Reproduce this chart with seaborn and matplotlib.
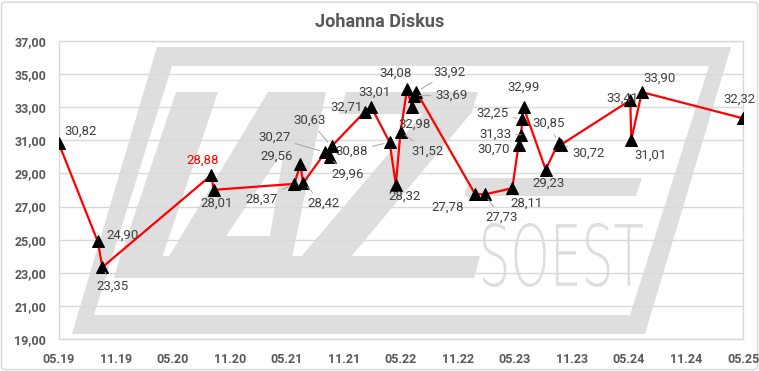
import numpy as np
import pandas as pd
import matplotlib
matplotlib.use("Agg")
import matplotlib.pyplot as plt
import seaborn as sns
from matplotlib.path import Path
from matplotlib.patches import PathPatch, FancyBboxPatch
from matplotlib.textpath import TextPath
from matplotlib.font_manager import FontProperties
from matplotlib.transforms import Affine2D

# ---------------- data ----------------
dates = ['2019-05-01', '2019-09-03', '2019-09-18', '2020-08-31', '2020-09-09',
         '2021-05-25', '2021-06-13', '2021-06-22', '2021-09-01', '2021-09-15',
         '2021-09-21', '2022-01-05', '2022-01-26', '2022-03-26', '2022-04-15',
         '2022-04-30', '2022-05-21', '2022-06-06', '2022-06-11', '2022-06-20',
         '2022-12-24', '2023-01-24', '2023-04-23', '2023-05-13', '2023-05-21',
         '2023-05-25', '2023-05-29', '2023-08-08', '2023-09-18', '2023-09-25',
         '2024-05-05', '2024-05-08', '2024-06-11', '2025-05-01']
values = [30.82, 24.90, 23.35, 28.88, 28.01,
          28.37, 29.56, 28.42, 30.27, 29.96,
          30.63, 32.71, 33.01, 30.88, 28.32,
          31.52, 34.08, 32.98, 33.69, 33.92,
          27.78, 27.73, 28.11, 30.70, 31.33,
          32.25, 32.99, 29.23, 30.85, 30.72,
          33.41, 31.01, 33.90, 32.32]
highlight_value = 28.88
x_tick_dates = ['2019-05-01', '2019-11-01', '2020-05-01', '2020-11-01', '2021-05-01',
                '2021-11-01', '2022-05-01', '2022-11-01', '2023-05-01', '2023-11-01',
                '2024-05-01', '2024-11-01', '2025-05-01']
x_tick_labels = ['05.19', '11.19', '05.20', '11.20', '05.21', '11.21', '05.22',
                 '11.22', '05.23', '11.23', '05.24', '11.24', '05.25']
y_ticks = [19, 21, 23, 25, 27, 29, 31, 33, 35, 37]
title = 'Johanna Diskus'

# label layout (pixel offsets dx, dy-up) and leader-line flags
label_offsets = [(22, 12), (25, 6), (10, -19), (-8, 15), (3, -13),
                 (-33, -15), (-24, 8), (20, -20), (-51, 15), (18, -17),
                 (-22, 26), (-18, 5), (3, 15), (-38, -9), (9, -12),
                 (27, -20), (-12, 16), (2, -17), (38, 0), (33, 20),
                 (-27, -14), (17, -23), (14, -15), (-25, -4), (-26, 0),
                 (-30, 6), (0, 20), (3, -14), (-10, 19), (28, -8),
                 (-8, 2), (19, -15), (18, 14), (-4, 19)]
leaders = [0, 0, 1, 0, 0,
           1, 0, 1, 1, 1,
           1, 0, 0, 1, 0,
           1, 0, 0, 1, 1,
           1, 1, 0, 0, 1,
           1, 0, 0, 1, 1,
           0, 0, 0, 0]

df = pd.DataFrame({'date': pd.to_datetime(dates), 'value': values})

# ---------------- figure ----------------
W, H = 759, 371
sns.set_theme(style='white')
plt.rcParams['font.family'] = ['Roboto', 'DejaVu Sans']
fig = plt.figure(figsize=(W / 100, H / 100), dpi=100)
fig.patch.set_facecolor('white')


def px(x, y):
    return (x / W, 1 - y / H)


wm_color = '#dedede'


def wm_path(rings):
    verts, codes = [], []
    for ring in rings:
        verts += [px(*p) for p in ring] + [px(*ring[0])]
        codes += [Path.MOVETO] + [Path.LINETO] * (len(ring) - 1) + [Path.CLOSEPOLY]
    fig.patches.append(PathPatch(Path(verts, codes), transform=fig.transFigure,
                                 facecolor=wm_color, edgecolor='none', zorder=-5))


# watermark logo (decoration, pixel space)
wm_path([[(157, 47), (731, 47), (645, 334), (72, 334)],
         [(94, 315), (630, 315), (709, 66), (172, 66)]])
wm_path([[(176, 92), (218, 92), (162, 258), (120, 258)]])                  # L stem
wm_path([[(120, 256), (480, 256), (474, 278), (114, 278)]])                # base bar
wm_path([[(268, 92), (326, 92), (292, 258), (168, 258)],
         [(270, 236), (284, 150), (226, 236)]])                             # A
wm_path([[(346, 92), (478, 92), (471, 114), (339, 114)]])                  # Z top
wm_path([[(424, 112), (472, 112), (350, 258), (300, 258)]])                # Z diagonal
wm_path([[(470, 178), (642, 178), (636, 196), (464, 196)]])                # mid bar
tp = TextPath((0, 0), 'SOEST', size=10, prop=FontProperties(family='DejaVu Sans', weight='light'))
bb = tp.get_extents()
x0, y0, x1, y1 = 483, 223, 643, 287
tr = Affine2D().translate(-bb.x0, -bb.y0).scale((x1 - x0) / W / bb.width,
                                               (y1 - y0) / H / bb.height).translate(x0 / W, 1 - y1 / H)
fig.patches.append(PathPatch(tr.transform_path(tp), transform=fig.transFigure,
                             facecolor=wm_color, edgecolor='none', zorder=-5))

# chart border
fig.patches.append(FancyBboxPatch((0.002, 0.004), 0.996, 0.99, boxstyle='round,pad=0,rounding_size=0.006',
                                  transform=fig.transFigure, facecolor='none',
                                  edgecolor='#d9d9d9', lw=1.0, zorder=-5))

ax = fig.add_axes([58.7 / W, 1 - 339.3 / H, (743 - 58.7) / W, (339.3 - 40.7) / H])
ax.set_facecolor('none')

sns.lineplot(data=df, x='date', y='value', ax=ax, sort=False, estimator=None,
             color='#ff0000', lw=1.6, marker='^', markersize=9,
             markerfacecolor='black', markeredgecolor='black', zorder=3)

ax.set_xlim(pd.Timestamp(x_tick_dates[0]), pd.Timestamp(x_tick_dates[-1]))
ax.set_ylim(y_ticks[0], y_ticks[-1])
ax.set_xticks(pd.to_datetime(x_tick_dates))
ax.set_xticklabels(x_tick_labels)
ax.set_yticks(y_ticks)
ax.set_yticklabels([f'{v:.2f}'.replace('.', ',') for v in y_ticks])
ax.grid(axis='y', color='#d9d9d9', lw=1)
ax.grid(axis='x', visible=False)
ax.set_xlabel('')
ax.set_ylabel('')
for s in ax.spines.values():
    s.set_color('#d9d9d9')
    s.set_linewidth(1)
ax.tick_params(axis='both', length=0, labelsize=9, labelcolor='#595959')
ax.tick_params(axis='y', pad=9)
ax.tick_params(axis='x', pad=10)
for lab in ax.get_xticklabels() + ax.get_yticklabels():
    lab.set_fontweight('bold')

# data labels
for d, v, off, ld in zip(df['date'], values, label_offsets, leaders):
    col = '#ff0000' if v == highlight_value else '#404040'
    txt = f'{v:.2f}'.replace('.', ',')
    kw = {}
    if ld:
        kw['arrowprops'] = dict(arrowstyle='-', color='#a6a6a6', lw=0.7, shrinkA=1, shrinkB=4)
    ax.annotate(txt, xy=(d, v), xytext=off, textcoords='offset pixels',
                ha='center', va='center', fontsize=9.5, color=col, zorder=5, **kw)

fig.text(0.5, 1 - 22 / H, title, ha='center', va='center', fontsize=13,
         fontweight='bold', color='#595959')

fig.savefig('out.png', dpi=100)
